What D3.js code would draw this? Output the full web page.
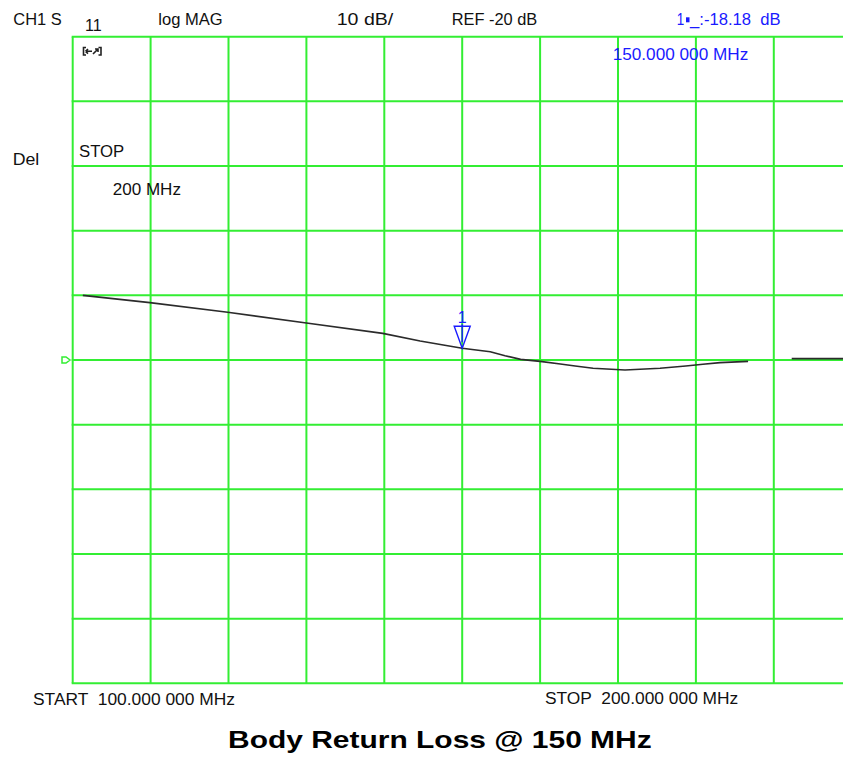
<!DOCTYPE html>
<html>
<head>
<meta charset="utf-8">
<script src="https://cdn.jsdelivr.net/npm/d3@7"></script>
<style>
  html, body { margin: 0; padding: 0; background: #fff; }
  svg { display: block; }
  text { white-space: pre; }
</style>
</head>
<body>
<div id="chart"></div>
<script>
// Sweep: 100 MHz .. 200 MHz, log MAG, 10 dB/div, reference -20 dB
const freqDomain = [100, 200];        // MHz
const magDomain = [-70, 30];          // dB (REF -20 dB at 5th division)
const xGrid = [100, 110, 120, 130, 140, 150, 160, 170, 180, 190, 200];
const yGrid = [30, 20, 10, 0, -10, -20, -30, -40, -50, -60, -70];
const refLevel = -20;

// Main trace (S11 magnitude)
const traceFreq = [101.3, 109.9, 119.9, 130.0, 139.8, 144.6, 147.2, 150.0, 153.6, 155.5, 157.5, 160.0,
                   162.6, 164.5, 166.8, 170.9, 175.4, 178.7, 180.9, 183.1, 186.7];
const traceMag  = [-10.0, -11.14, -12.62, -14.28, -15.87, -17.06, -17.6, -18.18, -18.72, -19.35, -19.89, -20.2,
                   -20.62, -20.93, -21.28, -21.55, -21.28, -20.93, -20.66, -20.42, -20.2];
// Trailing segment near the stop frequency
const tailFreq = [192.3, 200.0];
const tailMag  = [-19.8, -19.8];

// Marker 1
const markerFreq = 150;
const markerMag = -18.18;

const W = 843, H = 761;
const svg = d3.select("#chart").append("svg")
  .attr("width", W).attr("height", H)
  .style("font-family", "'Liberation Sans', Arial, sans-serif");

svg.append("rect").attr("width", W).attr("height", H).attr("fill", "#fff");

const x = d3.scaleLinear().domain(freqDomain).range([72.7, 851.7]);
const y = d3.scaleLinear().domain(magDomain).range([683.3, 36.7]);

const green = "#33ee33";

// Graticule
const grid = svg.append("g").attr("stroke", green).attr("stroke-width", 2).attr("fill", "none");
grid.selectAll("line.v").data(xGrid).join("line")
  .attr("class", "v")
  .attr("x1", d => x(d)).attr("x2", d => x(d))
  .attr("y1", y(magDomain[1])).attr("y2", y(magDomain[0]));
grid.selectAll("line.h").data(yGrid).join("line")
  .attr("class", "h")
  .attr("x1", x(freqDomain[0]) - 1).attr("x2", x(freqDomain[1]))
  .attr("y1", d => y(d)).attr("y2", d => y(d));

// Reference level pointer on the left edge
const ry = y(refLevel);
svg.append("path")
  .attr("d", `M62,${ry - 3}L66,${ry - 3}L70,${ry}L66,${ry + 3}L62,${ry + 3}Z`)
  .attr("fill", "none").attr("stroke", green).attr("stroke-width", 1.5);

// Trace
const line = d3.line().x(d => x(d[0])).y(d => y(d[1]));
const traceColor = "#2b2b2b";
svg.append("path")
  .datum(d3.zip(traceFreq, traceMag))
  .attr("d", line)
  .attr("fill", "none").attr("stroke", traceColor).attr("stroke-width", 1.7);
svg.append("path")
  .datum(d3.zip(tailFreq, tailMag))
  .attr("d", line)
  .attr("fill", "none").attr("stroke", traceColor).attr("stroke-width", 1.7);

// Marker 1
const blue = "#1a1aff";
const mx = x(markerFreq), my = y(markerMag);
const mk = svg.append("g").attr("stroke", blue).attr("fill", "none").attr("stroke-width", 1.4);
mk.append("path").attr("d", `M${mx - 8},${my - 22}L${mx + 8},${my - 22}L${mx},${my}Z`);
mk.append("line").attr("x1", mx).attr("x2", mx).attr("y1", my - 24).attr("y2", my - 6);
svg.append("text").attr("x", mx).attr("y", my - 25).attr("text-anchor", "middle")
  .attr("font-size", 16).attr("fill", blue).text("1");

// Annotation text
const ink = "#111";
function label(txt, x0, base, len, opts = {}) {
  return svg.append("text")
    .attr("x", x0).attr("y", base)
    .attr("font-size", opts.size || 16)
    .attr("font-weight", opts.weight || "normal")
    .attr("fill", opts.color || ink)
    .attr("textLength", len)
    .attr("lengthAdjust", "spacingAndGlyphs")
    .text(txt);
}

label("CH1 S", 13.3, 25, 48.4);
label("11", 85, 30.7, 16.7);
label("log MAG", 158.3, 25, 64.4);
label("10 dB/", 336.7, 25, 56.6);
label("REF -20 dB", 451.7, 25, 85.6);

// Marker readout
label("1", 676.7, 25, 7.5, { color: blue });
svg.append("rect").attr("x", 686).attr("y", 17.3).attr("width", 3.5).attr("height", 5).attr("fill", blue);
label("_:-18.18  dB", 690, 25, 90.7, { color: blue });
label("150.000 000 MHz", 612.7, 60, 135.6, { color: blue });

// Small boxed-arrow status icon
const ic = svg.append("g").attr("stroke", "#222").attr("fill", "none").attr("stroke-width", 1.6);
ic.append("path").attr("d", "M86,47.5L83.5,47.5L83.5,55L86,55");
ic.append("path").attr("d", "M98.5,47.5L101,47.5L101,55L98.5,55");
ic.append("path").attr("d", "M85.5,51.3L92,51.3M85.5,51.3L88,49M85.5,51.3L88,53.6");
ic.append("path").attr("d", "M93,54L98,49M95,49L98,49L98,52");

label("Del", 12.7, 165, 26.6);
label("STOP", 79, 157.3, 45.3);
label("200 MHz", 112.7, 195, 68.3);

label("START  100.000 000 MHz", 33, 705, 202);
label("STOP  200.000 000 MHz", 545, 704, 193.3);

label("Body Return Loss @ 150 MHz", 228, 748.3, 423.7, { size: 24, weight: "bold", color: "#000" });
</script>
</body>
</html>
